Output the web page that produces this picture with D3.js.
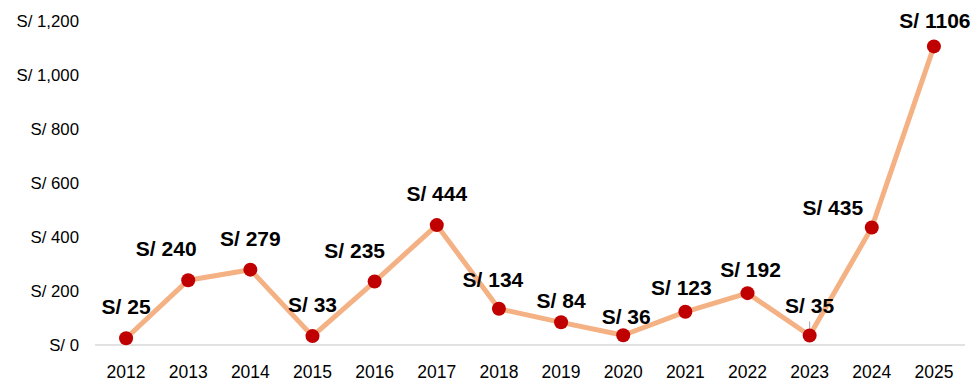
<!DOCTYPE html>
<html>
<head>
<meta charset="utf-8">
<script src="https://cdn.jsdelivr.net/npm/d3@7"></script>
<style>
  body { margin: 0; background: #fff; }
  text { font-family: "Liberation Sans", Arial, sans-serif; }
</style>
</head>
<body>
<script>
var years = ['2012','2013','2014','2015','2016','2017','2018','2019','2020','2021','2022','2023','2024','2025'];
var values = [25, 240, 279, 33, 235, 444, 134, 84, 36, 123, 192, 35, 435, 1106];
var yTicks = [0, 200, 400, 600, 800, 1000, 1200];
// label nudges (px) relative to the default spot above each point
var labelDx = [0, -22, 0, 0, -20, 0, -6, 0, 3, -4, 3, 0, -39, 1];
var labelDy = [0, 0, 0, 0, 0, 0, 2, 10, 13, 7, 8, 1, 11, 6];

var width = 977, height = 389;

var svg = d3.select('body')
    .append('svg')
    .attr('width', width)
    .attr('height', height)

var x = d3.scaleBand()
    .domain(years)
    .range([95, 965])

var y = d3.scaleLinear()
    .domain([0, 1200])
    .range([345, 21])

// y labels, no axis line
svg.selectAll('.ylab')
    .data(yTicks)
    .enter()
    .append('text')
    .attr('class', 'ylab')
    .attr('x', 79)
    .attr('y', d => y(d))
    .attr('dy', '0.35em')
    .attr('text-anchor', 'end')
    .attr('font-size', 16.8)
    .attr('fill', '#000')
    .text(d => 'S/ ' + d3.format(',')(d))

// baseline
svg.append('line')
    .attr('x1', 95).attr('x2', 965)
    .attr('y1', y(0)).attr('y2', y(0))
    .attr('stroke', '#d9d9d9')
    .attr('stroke-width', 1.3)

// x labels
svg.selectAll('.xlab')
    .data(years)
    .enter()
    .append('text')
    .attr('class', 'xlab')
    .attr('x', d => x(d) + x.bandwidth() / 2)
    .attr('y', 378)
    .attr('text-anchor', 'middle')
    .attr('font-size', 17.5)
    .attr('fill', '#000')
    .text(d => d)

var pts = years.map((d, i) => ({year: d, v: values[i], i: i}));

var line = d3.line()
    .x(d => x(d.year) + x.bandwidth() / 2)
    .y(d => y(d.v))

svg.append('path')
    .datum(pts)
    .attr('d', line)
    .attr('fill', 'none')
    .attr('stroke', '#f4b183')
    .attr('stroke-width', 5)
    .attr('stroke-linejoin', 'round')

// small leader line on 2023
svg.append('line')
    .attr('x1', x('2023') + x.bandwidth() / 2)
    .attr('x2', x('2023') + x.bandwidth() / 2)
    .attr('y1', y(35) - 14)
    .attr('y2', y(35) - 5)
    .attr('stroke', '#a6a6a6')
    .attr('stroke-width', 1)

svg.selectAll('.dot')
    .data(pts)
    .enter()
    .append('circle')
    .attr('class', 'dot')
    .attr('cx', d => x(d.year) + x.bandwidth() / 2)
    .attr('cy', d => y(d.v))
    .attr('r', 7)
    .attr('fill', '#c00000')

svg.selectAll('.vlab')
    .data(pts)
    .enter()
    .append('text')
    .attr('class', 'vlab')
    .attr('x', d => x(d.year) + x.bandwidth() / 2 + labelDx[d.i])
    .attr('y', d => y(d.v) - 24 + labelDy[d.i])
    .attr('text-anchor', 'middle')
    .attr('font-size', 21)
    .attr('font-weight', 'bold')
    .attr('fill', '#000')
    .text(d => 'S/ ' + d.v)
</script>
</body>
</html>
